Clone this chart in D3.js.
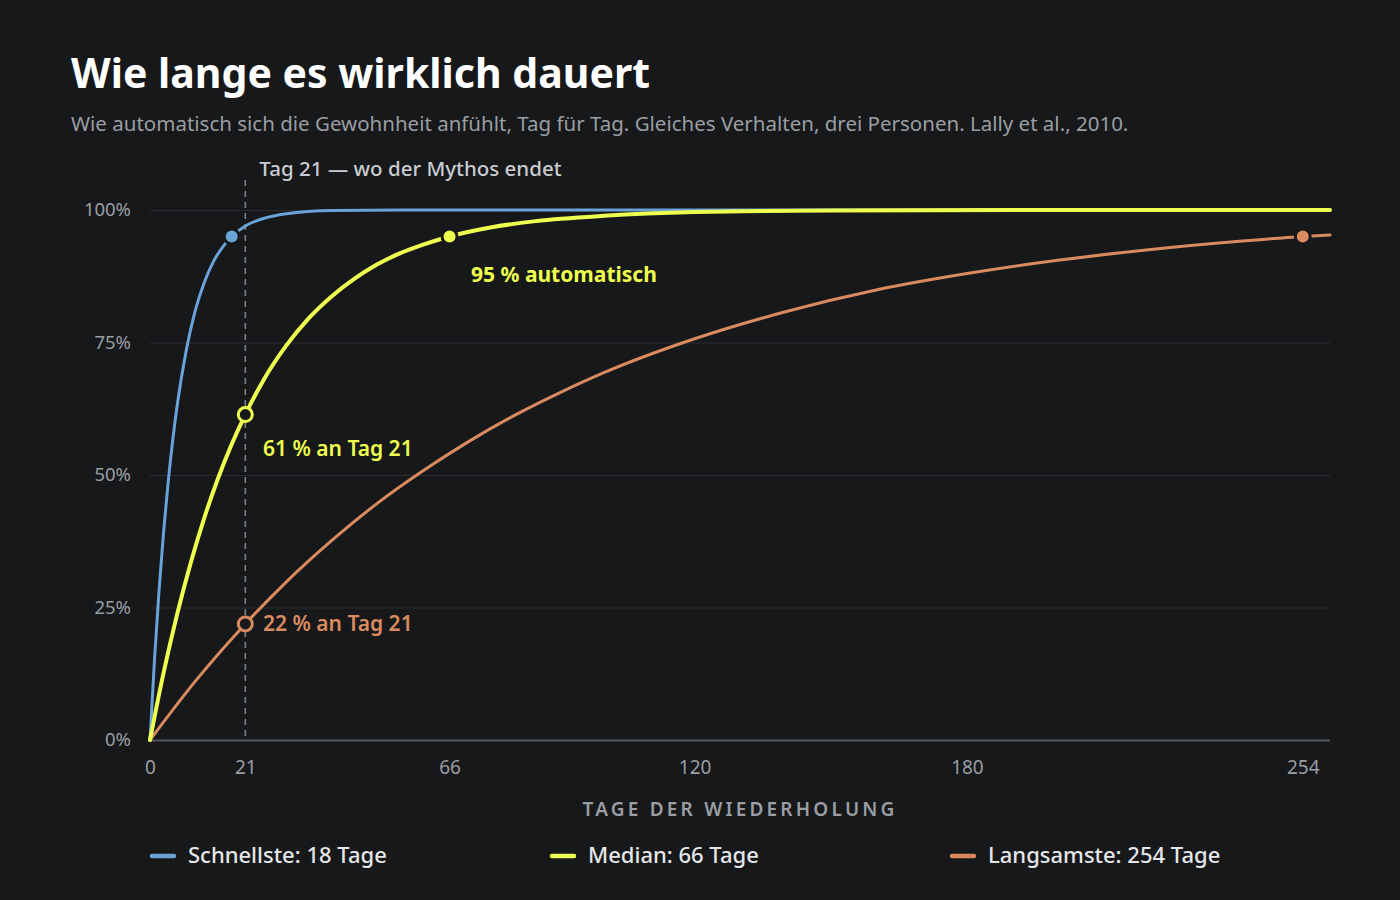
<!DOCTYPE html>
<html>
<head>
<meta charset="utf-8">
<script src="https://cdn.jsdelivr.net/npm/d3@7"></script>
<style>
  html, body { margin: 0; padding: 0; background: #16181a; }
  svg { display: block; }
  text { font-family: "Noto Sans", Lato, sans-serif; }
</style>
</head>
<body>
<svg id="chart" width="1400" height="900"></svg>
<script>
// ---- data ----
const fastDays   = [0, 1, 2, 3, 4, 5, 6, 8, 10, 12, 14, 16, 18, 21, 25, 30, 40, 60, 260];
const fastValues = [0, 0.153, 0.283, 0.393, 0.486, 0.565, 0.632, 0.736, 0.811, 0.864, 0.903, 0.930, 0.950, 0.970, 0.984, 0.993, 0.999, 1.0, 1.0];

const medianDays   = [0, 3, 6, 9, 12, 15, 18, 21, 25, 30, 35, 40, 45, 50, 55, 60, 66, 75, 85, 100, 120, 150, 200, 260];
const medianValues = [0, 0.127, 0.238, 0.335, 0.420, 0.494, 0.558, 0.614, 0.679, 0.744, 0.796, 0.837, 0.870, 0.897, 0.918, 0.934, 0.950, 0.967, 0.979, 0.989, 0.996, 0.999, 1.0, 1.0];

const slowDays   = [0, 10, 21, 30, 40, 50, 60, 70, 80, 90, 100, 120, 140, 160, 180, 200, 220, 240, 254, 260];
const slowValues = [0, 0.111, 0.219, 0.298, 0.376, 0.446, 0.507, 0.562, 0.611, 0.654, 0.693, 0.757, 0.808, 0.849, 0.880, 0.905, 0.925, 0.941, 0.950, 0.953];

const xTicks = [0, 21, 66, 120, 180, 254];
const yTicks = [0, 0.25, 0.5, 0.75, 1];
const legendLabels = ["Schnellste: 18 Tage", "Median: 66 Tage", "Langsamste: 254 Tage"];
const milestoneDays = [18, 66, 254];      // 95 % reached
const day21Values = [0.614, 0.219];       // median, slowest at day 21

const C = { bg: "#16181a", blue: "#6aa3d8", yellow: "#eeff4f", orange: "#d98a5f",
            grid: "#2a2d31", axis: "#55585c", muted: "#9a9ea3", text: "#e4e6e8" };

const svg = d3.select("#chart");
svg.append("rect").attr("width", 1400).attr("height", 900).attr("fill", C.bg);

const x = d3.scaleLinear().domain([0, 260]).range([150, 1330]);
const y = d3.scaleLinear().domain([0, 1]).range([740, 210]);

// title
svg.append("text").attr("x", 71).attr("y", 88).attr("fill", "#ffffff")
  .attr("font-size", 41).attr("font-weight", 700).text("Wie lange es wirklich dauert");
svg.append("text").attr("x", 71).attr("y", 131).attr("fill", C.muted)
  .attr("font-size", 20.5).text("Wie automatisch sich die Gewohnheit anfühlt, Tag für Tag. Gleiches Verhalten, drei Personen. Lally et al., 2010.");

// gridlines
const yAxis = d3.axisLeft(y).tickValues(yTicks).tickFormat(d => Math.round(d * 100) + "%")
  .tickSize(-(1330 - 150)).tickPadding(19);
const gy = svg.append("g").attr("transform", "translate(150,0)").call(yAxis);
gy.select(".domain").remove();
gy.selectAll(".tick line").attr("stroke", C.grid).attr("stroke-width", 1);
gy.selectAll(".tick text").attr("fill", C.muted).attr("font-size", 18.5).attr("font-family", "'Noto Sans', sans-serif");
gy.selectAll(".tick").filter(d => d === 0).select("line").attr("stroke", C.axis).attr("stroke-width", 2);

const xAxis = d3.axisBottom(x).tickValues(xTicks).tickSize(0).tickPadding(21);
const gx = svg.append("g").attr("transform", "translate(0,740)").call(xAxis);
gx.select(".domain").remove();
gx.selectAll(".tick text").attr("fill", C.muted).attr("font-size", 19).attr("font-family", "'Noto Sans', sans-serif");

svg.append("text").attr("x", 740).attr("y", 816).attr("text-anchor", "middle")
  .attr("fill", C.muted).attr("font-size", 19).attr("font-weight", 600)
  .attr("letter-spacing", 3.2).text("TAGE DER WIEDERHOLUNG");

// day 21 marker
svg.append("line").attr("x1", x(21)).attr("x2", x(21)).attr("y1", 180).attr("y2", 740)
  .attr("stroke", "#7d8185").attr("stroke-width", 1.6).attr("stroke-dasharray", "6,5");
svg.append("text").attr("x", x(21) + 14).attr("y", 176).attr("fill", "#c9ccd0")
  .attr("font-size", 20.5).attr("font-weight", 500).text("Tag 21 — wo der Mythos endet");

// lines
const line = d3.line().x(d => x(d[0])).y(d => y(d[1])).curve(d3.curveMonotoneX);
const series = [
  { days: fastDays, vals: fastValues, color: C.blue, w: 3 },
  { days: slowDays, vals: slowValues, color: C.orange, w: 3 },
  { days: medianDays, vals: medianValues, color: C.yellow, w: 4 }
];
series.forEach(s => {
  svg.append("path").datum(d3.zip(s.days, s.vals)).attr("d", line)
    .attr("fill", "none").attr("stroke", s.color).attr("stroke-width", s.w)
    .attr("stroke-linecap", "round").attr("stroke-linejoin", "round");
});

// 95 % milestones
const milestoneColors = [C.blue, C.yellow, C.orange];
milestoneDays.forEach((d, i) => {
  svg.append("circle").attr("cx", x(d)).attr("cy", y(0.95)).attr("r", 7.5)
    .attr("fill", milestoneColors[i]).attr("stroke", C.bg).attr("stroke-width", 3);
});

// day 21 hollow markers
[[day21Values[0], C.yellow], [day21Values[1], C.orange]].forEach(([v, c]) => {
  svg.append("circle").attr("cx", x(21)).attr("cy", y(v)).attr("r", 7)
    .attr("fill", C.bg).attr("stroke", c).attr("stroke-width", 3);
});

// annotations
svg.append("text").attr("x", 471).attr("y", 282).attr("fill", C.yellow)
  .attr("font-size", 21).attr("font-weight", 700).text("95 % automatisch");
svg.append("text").attr("x", 263).attr("y", 456).attr("fill", C.yellow)
  .attr("font-size", 21).attr("font-weight", 600).text("61 % an Tag 21");
svg.append("text").attr("x", 263).attr("y", 631).attr("fill", C.orange)
  .attr("font-size", 21).attr("font-weight", 600).text("22 % an Tag 21");

// legend
const legendX = [150, 550, 950];
legendLabels.forEach((lab, i) => {
  const g = svg.append("g").attr("transform", `translate(${legendX[i]},856)`);
  g.append("line").attr("x1", 2).attr("x2", 24).attr("y1", 0).attr("y2", 0)
    .attr("stroke", milestoneColors[i]).attr("stroke-width", 4.5).attr("stroke-linecap", "round");
  g.append("text").attr("x", 38).attr("y", 7).attr("fill", C.text)
    .attr("font-size", 22).attr("font-weight", 500).text(lab);
});
</script>
</body>
</html>
